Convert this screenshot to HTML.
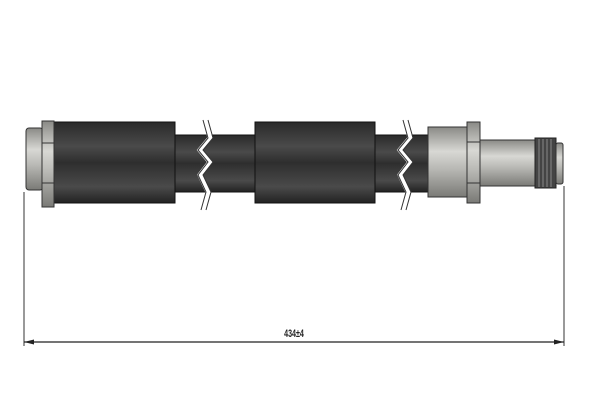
<!DOCTYPE html>
<html><head><style>body{margin:0;background:#fff}</style></head><body>
<svg width="600" height="400" viewBox="0 0 600 400" xmlns="http://www.w3.org/2000/svg">
<defs>
<linearGradient id="blk" x1="0" y1="0" x2="0" y2="1">
<stop offset="0" stop-color="#2a2a2a"/><stop offset="0.3" stop-color="#4a4a4a"/><stop offset="0.5" stop-color="#2e2e2e"/><stop offset="0.8" stop-color="#4a4a4a"/><stop offset="1" stop-color="#222"/></linearGradient>
<linearGradient id="met" x1="0" y1="0" x2="0" y2="1">
<stop offset="0" stop-color="#8a8a86"/><stop offset="0.35" stop-color="#d8d8d4"/><stop offset="0.6" stop-color="#b8b8b4"/><stop offset="1" stop-color="#7a7a76"/></linearGradient>
</defs>
<rect x="173" y="135" width="85" height="57" fill="url(#blk)" stroke="#111"/>
<rect x="373" y="135" width="58" height="57" fill="url(#blk)" stroke="#111"/>
<rect x="54" y="122" width="121" height="81" fill="url(#blk)" stroke="#111"/>
<rect x="255" y="122" width="120" height="81" fill="url(#blk)" stroke="#111"/>
<polyline points="205,120 210,138 200,150 210,162 200,175 208,192 203,210" fill="none" stroke="#fff" stroke-width="5"/>
<polyline points="203,120 208,138 198,150 208,162 198,175 206,192 201,210" fill="none" stroke="#333" stroke-width="1"/>
<polyline points="208,120 213,138 203,150 213,162 203,175 211,192 206,210" fill="none" stroke="#333" stroke-width="1"/>
<polyline points="405,120 410,138 400,150 410,162 400,175 408,192 403,210" fill="none" stroke="#fff" stroke-width="5"/>
<polyline points="403,120 408,138 398,150 408,162 398,175 406,192 401,210" fill="none" stroke="#333" stroke-width="1"/>
<polyline points="408,120 413,138 403,150 413,162 403,175 411,192 406,210" fill="none" stroke="#333" stroke-width="1"/>
<rect x="26" y="128" width="17" height="62" rx="3" fill="url(#met)" stroke="#333"/>
<rect x="42" y="121" width="12" height="86" fill="url(#met)" stroke="#333"/>
<line x1="42" y1="143" x2="54" y2="143" stroke="#333"/>
<line x1="42" y1="183" x2="54" y2="183" stroke="#333"/>
<rect x="428" y="127" width="40" height="70" fill="url(#met)" stroke="#333"/>
<rect x="480" y="140" width="56" height="46" fill="url(#met)" stroke="#333"/>
<rect x="467" y="122" width="13" height="81" fill="url(#met)" stroke="#333"/>
<line x1="467" y1="142" x2="480" y2="142" stroke="#333"/>
<line x1="467" y1="183" x2="480" y2="183" stroke="#333"/>
<rect x="535" y="138" width="21" height="50" fill="#444" stroke="#222"/>
<g stroke="#888" stroke-width="1"><line x1="539" y1="139" x2="539" y2="187"/><line x1="543" y1="139" x2="543" y2="187"/><line x1="547" y1="139" x2="547" y2="187"/><line x1="551" y1="139" x2="551" y2="187"/></g>
<rect x="556" y="143" width="7" height="41" rx="2" fill="url(#met)" stroke="#333"/>
<line x1="24" y1="192" x2="24" y2="346" stroke="#333"/>
<line x1="564" y1="186" x2="564" y2="346" stroke="#333"/>
<line x1="24" y1="342" x2="564" y2="342" stroke="#222" stroke-width="1.2"/>
<polygon points="24,342 34,339.5 34,344.5" fill="#222"/>
<polygon points="564,342 554,339.5 554,344.5" fill="#222"/>
<text x="294" y="337" font-family="Liberation Sans, sans-serif" font-size="11" font-weight="bold" text-anchor="middle" fill="#222" transform="translate(294 0) scale(0.65 1) translate(-294 0)">434±4</text>
</svg>
</body></html>
